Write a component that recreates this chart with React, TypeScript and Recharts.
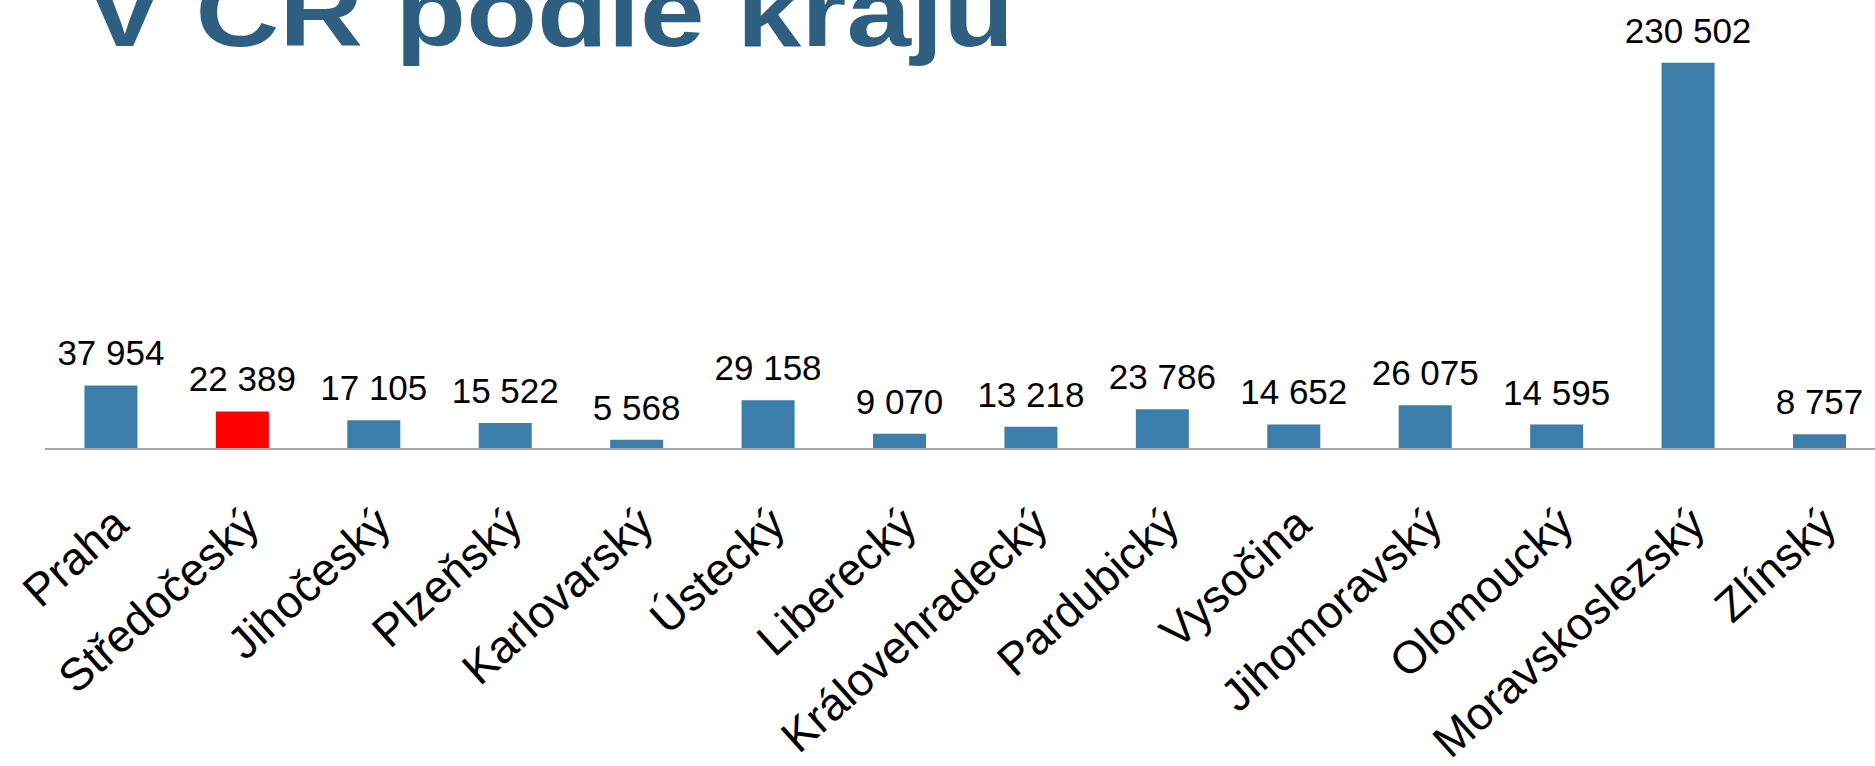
import React from "react";
import { BarChart, Bar, XAxis, YAxis, Cell, LabelList } from "recharts";

const regions = [
  "Praha",
  "Středočeský",
  "Jihočeský",
  "Plzeňský",
  "Karlovarský",
  "Ústecký",
  "Liberecký",
  "Královehradecký",
  "Pardubický",
  "Vysočina",
  "Jihomoravský",
  "Olomoucký",
  "Moravskoslezský",
  "Zlínský",
];

const counts = [37954, 22389, 17105, 15522, 5568, 29158, 9070, 13218, 23786, 14652, 26075, 14595, 230502, 8757];

const highlighted = "Středočeský";

const data = regions.map((name, i) => ({ name, value: counts[i] }));

const FONT = "'Liberation Sans', Arial, sans-serif";
const BLUE = "#3d7daa";
const RED = "#ff0000";

// thousands with a space, czech style
const fmt = (v: number) => String(v).replace(/\B(?=(\d{3})+(?!\d))/g, " ");

function RegionTick(props: any) {
  const { x, y, payload } = props;
  return (
    <g transform={`translate(${x + 20},${y + 71})`}>
      <text
        x={0}
        y={0}
        textAnchor="end"
        transform="rotate(-42)"
        fontSize={45.5}
        fontFamily={FONT}
        fill="#000"
      >
        {payload.value}
      </text>
    </g>
  );
}

function ValueLabel(props: any) {
  const { x, y, width, value } = props;
  return (
    <text
      x={x + width / 2}
      y={y - 20}
      textAnchor="middle"
      fontSize={35}
      fontFamily={FONT}
      fill="#000"
    >
      {fmt(Number(value))}
    </text>
  );
}

export default function App() {
  return (
    <div
      style={{
        position: "absolute",
        left: 0,
        top: 0,
        width: 1875,
        height: 766,
        overflow: "hidden",
        background: "#fff",
      }}
    >
      <svg width={1875} height={80} style={{ position: "absolute", left: 0, top: 0 }}>
        <text
          x={86}
          y={46}
          fontSize={98}
          fontWeight="bold"
          fontFamily={FONT}
          fill="#2e5f80"
          textLength={928}
          lengthAdjust="spacingAndGlyphs"
        >
          V ČR podle krajů
        </text>
      </svg>
      <div style={{ position: "absolute", left: 0, top: 0 }}>
        <BarChart
          width={1900}
          height={766}
          data={data}
          margin={{ top: 30, right: 15, bottom: 17, left: 45 }}
          barCategoryGap="30%"
        >
          <XAxis
            dataKey="name"
            interval={0}
            tickLine={false}
            axisLine={{ stroke: "#a6a6a6", strokeWidth: 2 }}
            tick={<RegionTick />}
            height={300}
          />
          <YAxis hide domain={[0, 250000]} />
          <Bar dataKey="value" isAnimationActive={false}>
            {data.map((d) => (
              <Cell key={d.name} fill={d.name === highlighted ? RED : BLUE} />
            ))}
            <LabelList dataKey="value" content={<ValueLabel />} />
          </Bar>
        </BarChart>
      </div>
    </div>
  );
}
